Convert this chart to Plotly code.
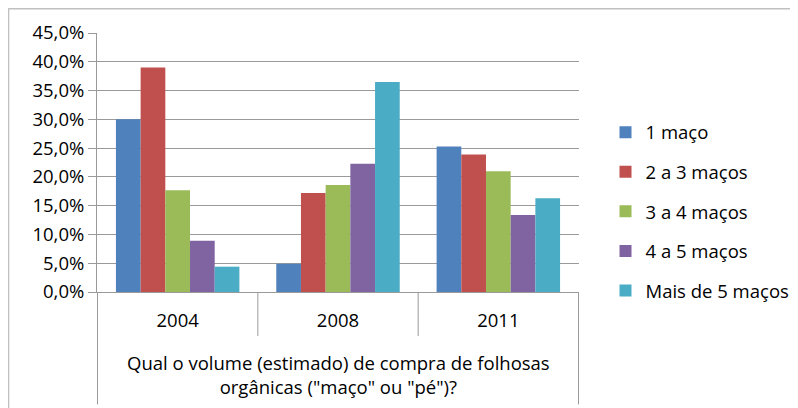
import plotly.graph_objects as go

# years on the category axis
anos = ['2004', '2008', '2011']

# share of answers per volume class (percent)
series = ['1 maço', '2 a 3 maços', '3 a 4 maços', '4 a 5 maços', 'Mais de 5 maços']
um_maco = [30.0, 4.9, 25.3]
dois_tres = [39.0, 17.2, 23.9]
tres_quatro = [17.7, 18.6, 21.0]
quatro_cinco = [8.9, 22.3, 13.4]
mais_cinco = [4.4, 36.5, 16.3]

y_ticks = [0, 5, 10, 15, 20, 25, 30, 35, 40, 45]

colors = ['#4F81BD', '#C0504D', '#9BBB59', '#8064A2', '#4BACC6']
valores = [um_maco, dois_tres, tres_quatro, quatro_cinco, mais_cinco]

FONT = 'Open Sans'
FS = 18.5
GRID = '#9a9a9a'

fig = go.Figure()
for i, (name, vals) in enumerate(zip(series, valores)):
    fig.add_trace(go.Bar(
        x=anos, y=[v / 100 for v in vals], name=name,
        marker=dict(color=colors[i], line=dict(width=0)),
        legendgroup=name,
    ))

# category boundaries under the axis (Excel style)
for k, xb in enumerate([-0.5, 0.5, 1.5, 2.5]):
    bottom = -0.434 if k in (0, 3) else -0.17
    fig.add_shape(type='line', xref='x', yref='paper', x0=xb, x1=xb, y0=0, y1=bottom,
                  line=dict(color=GRID, width=1))

# chart border (top and left visible)
fig.add_shape(type='line', xref='paper', yref='paper', x0=-0.184, x1=1.45, y0=1.095, y1=1.095,
              line=dict(color='#c0c0c0', width=2))
fig.add_shape(type='line', xref='paper', yref='paper', x0=-0.184, x1=-0.184, y0=1.095, y1=-0.5,
              line=dict(color='#c0c0c0', width=2))

fig.add_annotation(
    text='Qual o volume (estimado) de compra de folhosas<br>orgânicas ("maço" ou "pé")?',
    xref='paper', yref='paper', x=0.5, y=-0.318, yanchor='middle',
    showarrow=False, font=dict(family=FONT, size=FS, color='#000000'),
)

fig.update_layout(
    width=798, height=408,
    margin=dict(l=89, r=219, t=25, b=124),
    paper_bgcolor='white', plot_bgcolor='white',
    separators=',.',
    barmode='group', bargap=0.23, bargroupgap=0,
    font=dict(family=FONT, size=FS, color='#000000'),
    legend=dict(x=1.055, y=0.31, xanchor='left', yanchor='middle',
                font=dict(family=FONT, size=FS), tracegroupgap=12.5,
                itemwidth=30),
    showlegend=True,
)
fig.update_xaxes(
    type='category', showline=True, linecolor=GRID, linewidth=1,
    ticks='', showgrid=False, ticklabelstandoff=12,
    tickfont=dict(family=FONT, size=FS),
)
fig.update_yaxes(
    range=[0, 0.45], tickvals=[t / 100 for t in y_ticks], tickformat='.1%',
    ticksuffix='\u00a0\u00a0',
    showline=True, linecolor=GRID, linewidth=1,
    showgrid=True, gridcolor=GRID, gridwidth=1,
    ticks='outside', ticklen=8, tickcolor=GRID,
    tickfont=dict(family=FONT, size=FS), zeroline=False,
)

fig.write_html('out.html')
